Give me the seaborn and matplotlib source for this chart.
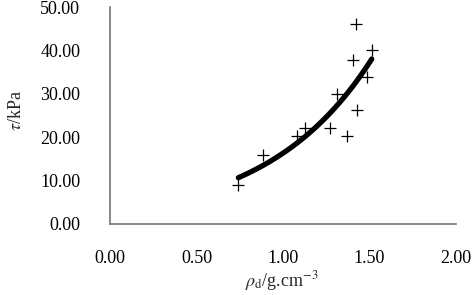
import numpy as np
import pandas as pd
import matplotlib
matplotlib.use("Agg")
import matplotlib.pyplot as plt
import seaborn as sns

# data
rho_d = [0.742, 0.886, 1.079, 1.127, 1.272, 1.310, 1.368, 1.426, 1.406, 1.420, 1.484, 1.513]
tau = [9.0, 15.9, 20.2, 22.2, 22.1, 29.9, 20.2, 26.3, 37.9, 46.0, 33.8, 40.0]
x_ticks = [0.0, 0.5, 1.0, 1.5, 2.0]
y_ticks = [0, 10, 20, 30, 40, 50]
x_tick_labels = ["0.00", "0.50", "1.00", "1.50", "2.00"]
y_tick_labels = ["0.00", "10.00", "20.00", "30.00", "40.00", "50.00"]

sns.set_style("white")
plt.rcParams["font.family"] = ["Liberation Serif", "DejaVu Serif"]
plt.rcParams["mathtext.fontset"] = "stix"

df = pd.DataFrame({"rho": rho_d, "tau": tau})

# exponential trend line fitted to the points
b, ln_a = np.polyfit(df["rho"], np.log(df["tau"]), 1)
xs = np.linspace(min(rho_d), max(rho_d), 100)
trend = pd.DataFrame({"rho": xs, "tau": np.exp(ln_a) * np.exp(b * xs)})

fig = plt.figure(figsize=(4.76, 2.95), dpi=100)
ax = fig.add_axes([110 / 476, 1 - 224 / 295, 346 / 476, 217 / 295])

sns.lineplot(data=trend, x="rho", y="tau", ax=ax, color="black", linewidth=3.8,
             solid_capstyle="round")
sns.scatterplot(data=df, x="rho", y="tau", ax=ax, marker="+", s=70, color="black",
                linewidth=0.9, zorder=3)

ax.set_xlim(0, 2)
ax.set_ylim(0, 50)
ax.set_xticks(x_ticks)
ax.set_xticklabels(x_tick_labels)
ax.set_yticks(y_ticks)
ax.set_yticklabels(y_tick_labels)
ax.tick_params(axis="both", direction="in", length=4, width=1, colors="#808080",
               labelcolor="black", labelsize=13)
ax.tick_params(axis="x", pad=19)
ax.tick_params(axis="y", pad=21.5)

for side in ["top", "right"]:
    ax.spines[side].set_visible(False)
for side in ["left", "bottom"]:
    ax.spines[side].set_color("#808080")
    ax.spines[side].set_linewidth(1.3)

ax.set_xlabel(r"$\rho_{\mathrm{d}}$/g.cm$^{\mathrm{-3}}$", fontsize=13, va="center")
ax.set_ylabel(r"$\tau$/kPa", fontsize=13, va="center", ha="center")
ax.xaxis.set_label_coords(0.496, -0.263)
ax.yaxis.set_label_coords(-0.269, 0.525)

fig.savefig("out.png", dpi=100)
